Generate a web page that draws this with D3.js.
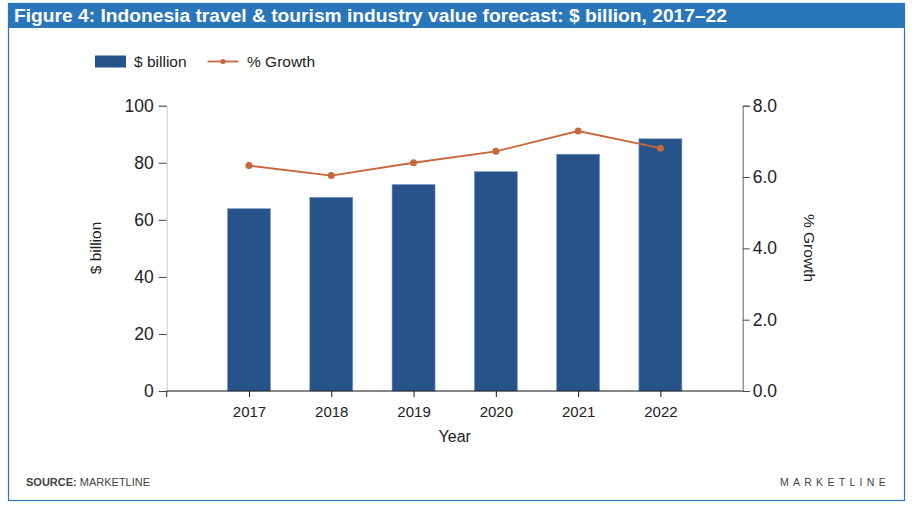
<!DOCTYPE html>
<html><head><meta charset="utf-8">
<script src="https://cdn.jsdelivr.net/npm/d3@7"></script>
<style>body{margin:0;background:#fff;} svg{display:block;}</style>
</head><body>
<svg id="c" width="912" height="507"></svg>
<script>
const years = ["2017","2018","2019","2020","2021","2022"];
const billions = [63.9, 67.9, 72.4, 76.9, 83.0, 88.4];
const growth = [6.32, 6.04, 6.40, 6.72, 7.29, 6.81];
const leftTicks = [0,20,40,60,80,100];
const rightTicks = [0,2,4,6,8];

const svg = d3.select("#c");
const font = "Arial, 'Liberation Sans', sans-serif";
const blue = "#2a76ba";

// frame
svg.append("rect").attr("x",8.5).attr("y",3.5).attr("width",896).attr("height",497)
  .attr("fill","none").attr("stroke",blue).attr("stroke-width",1.2);
svg.append("rect").attr("x",8).attr("y",3).attr("width",897).attr("height",25).attr("fill",blue);
svg.append("text").attr("x",14).attr("y",22).attr("fill","#fff")
  .attr("font-family",font).attr("font-weight","bold").attr("font-size",17.5)
  .attr("textLength",713).attr("lengthAdjust","spacingAndGlyphs")
  .text("Figure 4: Indonesia travel & tourism industry value forecast: $ billion, 2017–22");

const L = 166.7, R = 742.7, T = 105.7, B = 391;
const x = d3.scalePoint().domain(years).range([L,R]).padding(1);
const yL = d3.scaleLinear().domain([0,100]).range([B,T]);
const yR = d3.scaleLinear().domain([0,8]).range([B,T]);
const barColor = "#265389", lineColor = "#c8663c";
const txt = "#222";

// bars
svg.append("g").selectAll("rect").data(years).join("rect")
  .attr("x",d=>x(d)-21.5).attr("width",43)
  .attr("y",(d,i)=>yL(billions[i])).attr("height",(d,i)=>B-yL(billions[i]))
  .attr("fill",barColor).attr("stroke","#7d9cc4").attr("stroke-width",0.6);

// left axis
const gl = svg.append("g").attr("transform",`translate(${L},0)`)
  .call(d3.axisLeft(yL).tickValues(leftTicks).tickSize(8).tickPadding(5).tickFormat(d3.format("d")));
gl.select(".domain").attr("stroke","#c8c8c8");
gl.selectAll(".tick line").attr("stroke","#444");
gl.selectAll("text").attr("font-family",font).attr("font-size",17.5).attr("fill",txt);

// right axis
const gr = svg.append("g").attr("transform",`translate(${R},0)`)
  .call(d3.axisRight(yR).tickValues(rightTicks).tickSize(7).tickPadding(3).tickFormat(d3.format(".1f")));
gr.select(".domain").attr("stroke","#666");
gr.selectAll(".tick line").attr("stroke","#444");
gr.selectAll("text").attr("font-family",font).attr("font-size",17.5).attr("fill",txt);

// bottom axis
const gb = svg.append("g").attr("transform",`translate(0,${B})`)
  .call(d3.axisBottom(x).tickSize(6).tickPadding(9));
gb.select(".domain").attr("stroke","#111").attr("d",`M${L},6V0H${R}`);
gb.selectAll(".tick line").attr("stroke","#111");
gb.selectAll("text").attr("font-family",font).attr("font-size",15).attr("fill",txt);

// line
const line = d3.line().x((d,i)=>x(years[i])).y(d=>yR(d));
svg.append("path").datum(growth).attr("d",line).attr("fill","none")
  .attr("stroke",lineColor).attr("stroke-width",1.8);
svg.append("g").selectAll("circle").data(growth).join("circle")
  .attr("cx",(d,i)=>x(years[i])).attr("cy",d=>yR(d)).attr("r",3.5).attr("fill",lineColor);

// axis titles
svg.append("text").attr("transform",`translate(101,248) rotate(-90)`).attr("text-anchor","middle")
  .attr("font-family",font).attr("font-size",15.5).attr("fill",txt).text("$ billion");
svg.append("text").attr("transform",`translate(804,248) rotate(90)`).attr("text-anchor","middle")
  .attr("font-family",font).attr("font-size",15.5).attr("fill",txt).text("% Growth");
svg.append("text").attr("x",(L+R)/2).attr("y",442).attr("text-anchor","middle")
  .attr("font-family",font).attr("font-size",16).attr("fill",txt).text("Year");

// legend
svg.append("rect").attr("x",95).attr("y",55.5).attr("width",31).attr("height",12).attr("fill",barColor);
svg.append("text").attr("x",134).attr("y",67).attr("font-family",font).attr("font-size",15.5).attr("fill",txt).text("$ billion");
svg.append("line").attr("x1",207.5).attr("x2",238.5).attr("y1",61.5).attr("y2",61.5).attr("stroke",lineColor).attr("stroke-width",1.8);
svg.append("circle").attr("cx",223).attr("cy",61.5).attr("r",2.5).attr("fill",lineColor);
svg.append("text").attr("x",247).attr("y",67).attr("font-family",font).attr("font-size",15.5).attr("fill",txt).text("% Growth");

// footer
const ft = svg.append("text").attr("x",26).attr("y",486).attr("font-family","'Liberation Sans Narrow', Arial, sans-serif")
  .attr("font-size",11).attr("fill","#444");
ft.append("tspan").attr("font-weight","bold").text("SOURCE: ");
ft.append("tspan").text("MARKETLINE");
svg.append("text").attr("x",890).attr("y",486).attr("text-anchor","end").attr("font-family",font)
  .attr("font-size",10.5).attr("letter-spacing",4.3).attr("fill","#444").text("MARKETLINE");
</script>
</body></html>
